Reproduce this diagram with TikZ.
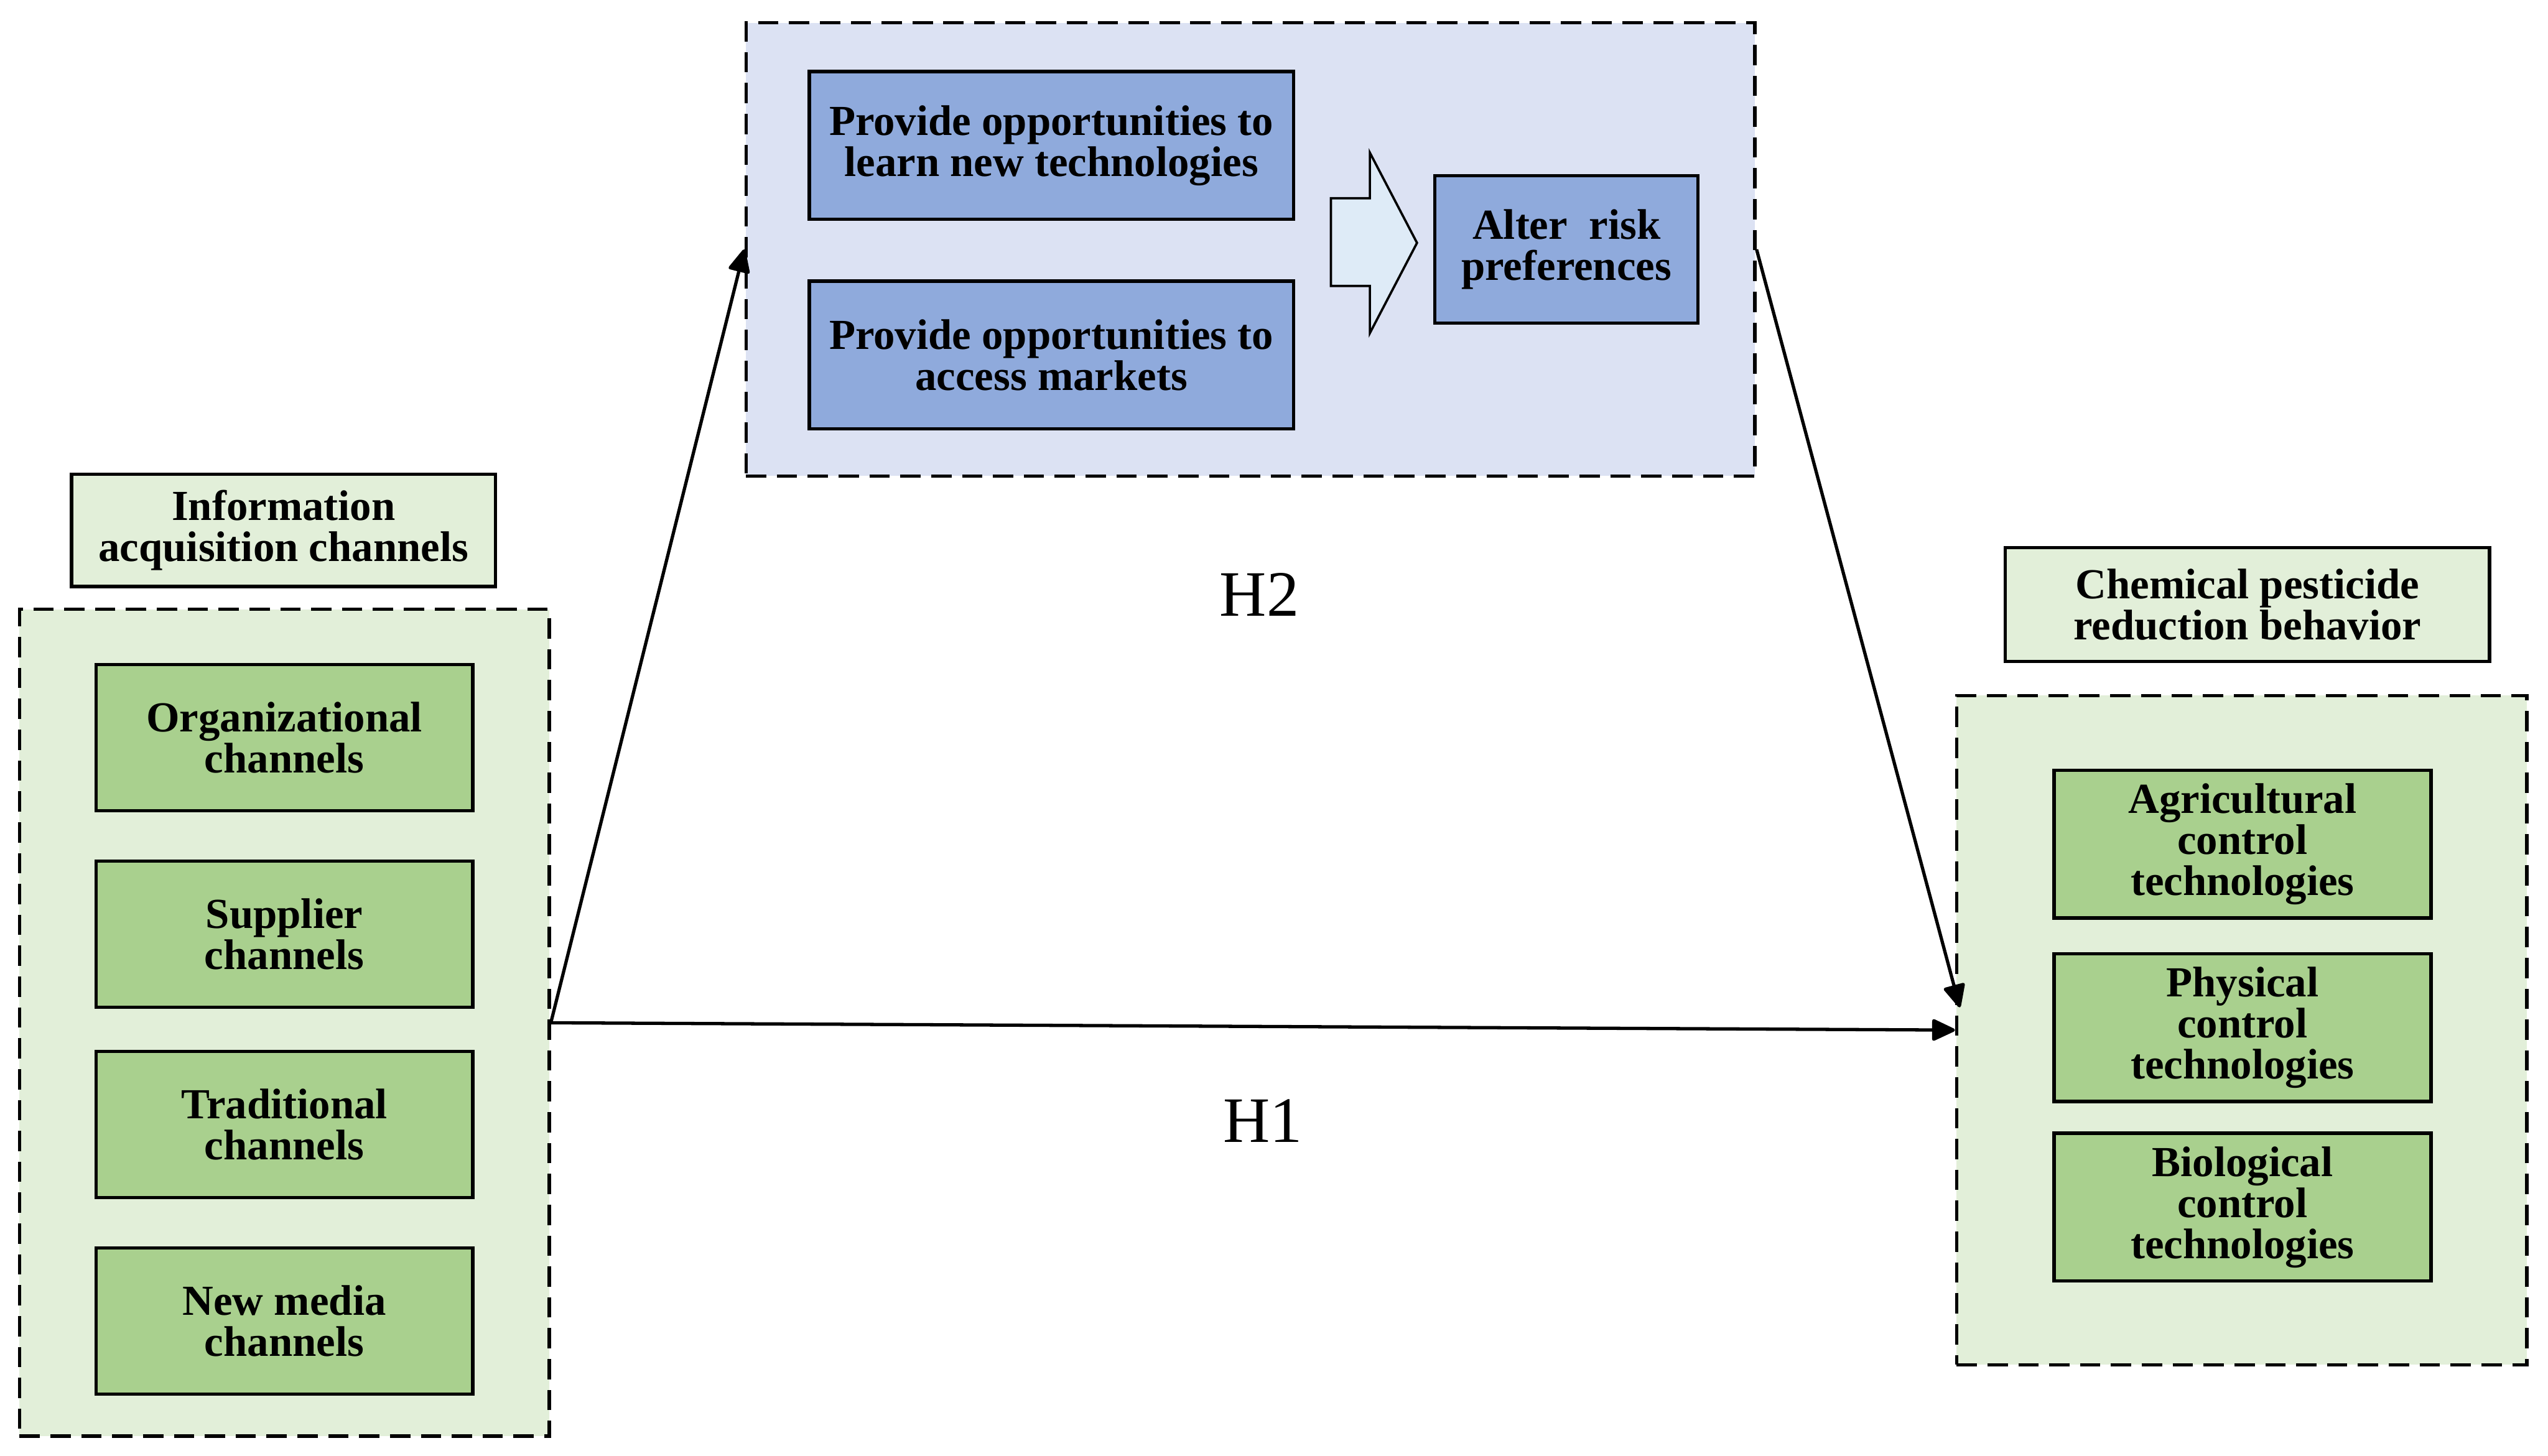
\documentclass[tikz,border=0pt]{standalone}
\usepackage{fontspec}
\setmainfont{Liberation Serif}
\usetikzlibrary{arrows.meta}
\definecolor{lav}{RGB}{220,226,243}
\definecolor{bluebox}{RGB}{143,170,220}
\definecolor{palegreen}{RGB}{226,239,217}
\definecolor{greenbox}{RGB}{169,208,142}
\definecolor{arrowfill}{RGB}{222,235,247}
\tikzset{
  boxtext/.style={font=\bfseries\fontsize{15}{14.4}\selectfont, align=center},
  solidbox/.style={draw=black, line width=1.15pt, rectangle, inner sep=0pt, boxtext},
  bluestep/.style={solidbox, fill=bluebox, minimum height=1.82cm},
  greenstep/.style={solidbox, fill=greenbox, minimum width=4.64cm},
  labelbox/.style={solidbox, fill=palegreen},
  dashbox/.style={draw=black, line width=1.15pt, dash pattern=on 0.25cm off 0.13cm, rectangle, inner sep=0pt},
  conn/.style={draw=black, line width=1.15pt, -{Triangle[length=0.31cm,width=0.28cm,round]}},
  hlabel/.style={font=\fontsize{22.7}{24}\selectfont}
}
\begin{document}
\begin{tikzpicture}[x=0.02cm, y=-0.02cm]
\useasboundingbox[fill=white] (0,0) rectangle (1568,896);
% top mediating box
\node[dashbox, fill=lav, minimum width=12.42cm, minimum height=5.58cm] (T) at (769.5,153.5) {};
\node[bluestep, minimum width=5.96cm] (b1) at (647,89.5) {Provide opportunities to\\learn new technologies};
\node[bluestep, minimum width=5.96cm] (b2) at (647,218.5) {Provide opportunities to\\access markets};
\node[bluestep, minimum width=3.24cm] (alt) at (964,153.5) {Alter\ \ risk\\preferences};
\draw[fill=arrowfill, draw=black, line width=0.8pt] (819,122) -- (843,122) -- (843,94) -- (872,149.5) -- (843,205) -- (843,176) -- (819,176) -- cycle;
% left side
\node[labelbox, minimum width=5.22cm, minimum height=1.38cm] (LL) at (174.5,326.5) {Information\\acquisition channels};
\node[dashbox, fill=palegreen, minimum width=6.52cm, minimum height=10.18cm] (L) at (175,629.5) {};
\node[greenstep, minimum height=1.8cm] (l1) at (175,454) {Organizational\\channels};
\node[greenstep, minimum height=1.8cm] (l2) at (175,575) {Supplier\\channels};
\node[greenstep, minimum height=1.8cm] (l3) at (175,692) {Traditional\\channels};
\node[greenstep, minimum height=1.8cm] (l4) at (175,813) {New media\\channels};
% right side
\node[labelbox, minimum width=5.96cm, minimum height=1.4cm] (RL) at (1383,372) {Chemical pesticide\\reduction behavior};
\node[dashbox, fill=palegreen, minimum width=7.02cm, minimum height=8.24cm] (R) at (1379.5,634) {};
\node[greenstep, minimum height=1.82cm] (r1) at (1380,519.5) {Agricultural\\control\\technologies};
\node[greenstep, minimum height=1.82cm] (r2) at (1380,632.5) {Physical\\control\\technologies};
\node[greenstep, minimum height=1.82cm] (r3) at (1380,743) {Biological\\control\\technologies};
% connectors
\coordinate (Rin) at ([xshift=0.06cm, yshift=0.28cm]R.west);
\draw[conn] (L.east) -- (T.west);
\draw[conn] (T.east) -- (Rin);
\draw[conn] (L.east) -- (R.west);
% labels
\node[hlabel] (h2) at (775,366) {H2};
\node[hlabel] (h1) at (777,690) {H1};
\end{tikzpicture}
\end{document}
